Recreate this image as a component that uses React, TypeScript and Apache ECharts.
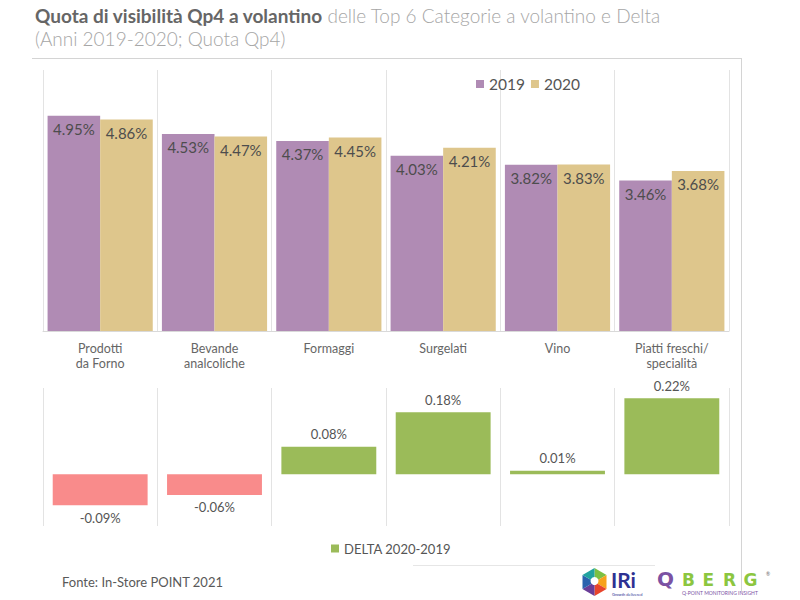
import React, { useEffect, useRef } from "react";
import * as echarts from "echarts";

const categories = [
  "Prodotti\nda Forno",
  "Bevande\nanalcoliche",
  "Formaggi",
  "Surgelati",
  "Vino",
  "Piatti freschi/\nspecialità",
];
const values2019 = [4.95, 4.53, 4.37, 4.03, 3.82, 3.46];
const values2020 = [4.86, 4.47, 4.45, 4.21, 3.83, 3.68];
const deltaValues = [-0.09, -0.06, 0.08, 0.18, 0.01, 0.22];

const FONT = "Lato, 'Open Sans', sans-serif";
const C2019 = "#B08BB4";
const C2020 = "#DEC68C";
const CPOS = "#9BBB59";
const CNEG = "#F98B8B";

export default function App() {
  const ref = useRef<HTMLDivElement>(null);

  useEffect(() => {
    if (!ref.current) return;
    const chart = echarts.init(ref.current, undefined, { renderer: "svg" });
    const pct = (p: any) => Number(p.value).toFixed(2) + "%";

    const deltaData = deltaValues.map((v) => ({
      value: v,
      itemStyle: { color: v < 0 ? CNEG : CPOS },
      label: { position: v < 0 ? "bottom" : "top" },
    }));

    const bergLetters = ["B", "E", "R", "G"].map((ch, i) => ({
      type: "text",
      left: 682 + i * 20.5,
      top: 571,
      style: {
        text: ch,
        fontFamily: "'DejaVu Sans', sans-serif",
        fontSize: 17,
        fontWeight: "bold",
        fill: "#8cc63f",
      },
    }));

    const option: any = {
      animation: false,
      backgroundColor: "#ffffff",
      textStyle: { fontFamily: FONT },
      title: [
        {
          text: "{b|Quota di visibilità Qp4 a volantino} {n|delle Top 6 Categorie a volantino e Delta}",
          left: 30,
          top: 1,
          textStyle: {
            rich: {
              b: { fontFamily: FONT, fontSize: 19, fontWeight: "bold", color: "#666666" },
              n: { fontFamily: FONT, fontSize: 19, fontWeight: 300, color: "#a6a6a6" },
            },
          },
        },
        {
          text: "(Anni 2019-2020; Quota Qp4)",
          left: 30,
          top: 24,
          textStyle: { fontFamily: FONT, fontSize: 19, fontWeight: 300, color: "#a6a6a6" },
        },
      ],
      legend: [
        {
          data: ["2019", "2020"],
          left: 471,
          top: 71,
          icon: "rect",
          itemWidth: 8,
          itemHeight: 8,
          itemGap: 6,
          textStyle: { fontFamily: FONT, fontSize: 15.5, color: "#555" },
        },
        {
          data: ["DELTA 2020-2019"],
          left: 326,
          top: 537,
          icon: "rect",
          itemWidth: 8,
          itemHeight: 8,
          textStyle: { fontFamily: FONT, fontSize: 13, color: "#555" },
        },
      ],
      grid: [
        { left: 43, width: 686, top: 70, height: 261 },
        { left: 43, width: 686, top: 388, height: 138 },
      ],
      xAxis: [
        {
          type: "category",
          gridIndex: 0,
          data: categories,
          axisLine: { show: true, lineStyle: { color: "#d9d9d9" } },
          axisTick: { show: false },
          axisLabel: {
            interval: 0,
            margin: 10,
            fontFamily: FONT,
            fontSize: 12.5,
            lineHeight: 15,
            color: "#666",
          },
          splitLine: { show: true, interval: 0, lineStyle: { color: "#e3e3e3" } },
        },
        {
          type: "category",
          gridIndex: 1,
          data: categories,
          axisLine: { show: false },
          axisTick: { show: false },
          axisLabel: { show: false },
          splitLine: { show: true, interval: 0, lineStyle: { color: "#e3e3e3" } },
        },
      ],
      yAxis: [
        { type: "value", gridIndex: 0, min: 0, max: 6, show: false },
        { type: "value", gridIndex: 1, min: -0.15, max: 0.25, show: false },
      ],
      series: [
        {
          name: "2019",
          type: "bar",
          xAxisIndex: 0,
          yAxisIndex: 0,
          data: values2019,
          barGap: "0%",
          barCategoryGap: "8%",
          itemStyle: { color: C2019 },
          label: {
            show: true,
            position: "insideTop",
            distance: 6,
            formatter: pct,
            fontFamily: FONT,
            fontSize: 15,
            color: "#4d4d4d",
          },
        },
        {
          name: "2020",
          type: "bar",
          xAxisIndex: 0,
          yAxisIndex: 0,
          data: values2020,
          barGap: "0%",
          barCategoryGap: "8%",
          itemStyle: { color: C2020 },
          label: {
            show: true,
            position: "insideTop",
            distance: 6,
            formatter: pct,
            fontFamily: FONT,
            fontSize: 15,
            color: "#4d4d4d",
          },
        },
        {
          name: "DELTA 2020-2019",
          type: "bar",
          xAxisIndex: 1,
          yAxisIndex: 1,
          data: deltaData,
          barWidth: "83%",
          itemStyle: { color: CPOS },
          label: {
            show: true,
            distance: 6,
            formatter: pct,
            fontFamily: FONT,
            fontSize: 13,
            color: "#555",
          },
        },
      ],
      graphic: [
        {
          type: "line",
          shape: { x1: 32, y1: 58.5, x2: 742, y2: 58.5 },
          style: { stroke: "#d4d4d4", lineWidth: 1 },
          silent: true,
        },
        {
          type: "line",
          shape: { x1: 741.5, y1: 58, x2: 741.5, y2: 592 },
          style: { stroke: "#d4d4d4", lineWidth: 1 },
          silent: true,
        },
        {
          type: "line",
          shape: { x1: 413, y1: 565.5, x2: 655, y2: 565.5 },
          style: { stroke: "#e6e6e6", lineWidth: 1 },
          silent: true,
        },
        {
          type: "text",
          left: 62,
          top: 575,
          style: { text: "Fonte: In-Store POINT 2021", fontFamily: FONT, fontSize: 13, fill: "#595959" },
        },
        // IRi logo (approximation)
        {
          type: "group",
          x: 594.5,
          y: 582,
          children: [
            { type: "polygon", shape: { points: [[0, 0], [0, -14], [12, -7]] }, style: { fill: "#7cc043" } },
            { type: "polygon", shape: { points: [[0, 0], [12, -7], [12, 7]] }, style: { fill: "#f7a21b" } },
            { type: "polygon", shape: { points: [[0, 0], [12, 7], [0, 14]] }, style: { fill: "#e8452c" } },
            { type: "polygon", shape: { points: [[0, 0], [0, 14], [-12, 7]] }, style: { fill: "#6a3d98" } },
            { type: "polygon", shape: { points: [[0, 0], [-12, 7], [-12, -7]] }, style: { fill: "#2b62ae" } },
            { type: "polygon", shape: { points: [[0, 0], [-12, -7], [0, -14]] }, style: { fill: "#22a3a0" } },
            { type: "circle", shape: { cx: 0, cy: -1, r: 4 }, style: { fill: "#ffffff" } },
          ],
        },
        {
          type: "text",
          left: 611,
          top: 569,
          style: { text: "IRi", fontFamily: FONT, fontSize: 21, fontWeight: "bold", fill: "#2e3192" },
        },
        {
          type: "text",
          left: 612,
          top: 592,
          style: { text: "Growth delivered", fontFamily: FONT, fontSize: 4, fill: "#2e3192" },
        },
        // QBERG logo (approximation)
        {
          type: "text",
          left: 657,
          top: 569,
          style: { text: "Q", fontFamily: "'DejaVu Sans', sans-serif", fontSize: 20, fontWeight: "bold", fill: "#7b52a3" },
        },
        ...bergLetters,
        {
          type: "text",
          left: 766,
          top: 571,
          style: { text: "®", fontFamily: FONT, fontSize: 5, fill: "#666" },
        },
        {
          type: "text",
          left: 682,
          top: 590,
          style: { text: "Q-POINT MONITORING INSIGHT", fontFamily: FONT, fontSize: 5, fill: "#7b52a3" },
        },
      ],
    };

    chart.setOption(option);
    return () => chart.dispose();
  }, []);

  return (
    <div
      ref={ref}
      style={{ position: "absolute", left: 0, top: 0, width: 800, height: 600 }}
    />
  );
}
